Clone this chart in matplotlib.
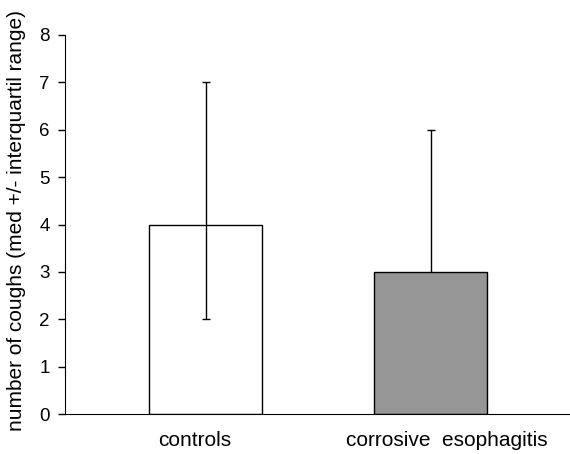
import matplotlib
matplotlib.use("Agg")
import matplotlib.pyplot as plt
import numpy as np

plt.rcParams['font.family'] = ['Liberation Sans', 'DejaVu Sans']

# data
groups = ["controls", "corrosive  esophagitis"]
medians = [4, 3]
lower_q = [2, 2]
upper_q = [7, 6]
bar_faces = ["none", "#969696"]

fig = plt.figure(figsize=(5.7, 4.54), dpi=100)
ax = fig.add_axes([0.114, 0.088, 0.886, 0.835])

x = np.arange(len(groups))
yerr = [np.array(medians) - np.array(lower_q), np.array(upper_q) - np.array(medians)]
# error bars sit behind the bars (hidden inside the filled one)
ax.errorbar(x, medians, yerr=yerr, fmt='none', ecolor='black', elinewidth=1,
            capsize=3.2, capthick=1, zorder=1)
ax.bar(x, medians, width=0.5, color=bar_faces, edgecolor='black', linewidth=1, zorder=2)

ax.set_xlim(-0.625, 1.62)
ax.set_ylim(0, 8)
ax.set_yticks(range(0, 9))
# labels in the original sit a bit off the bar centres
ax.set_xticks(x + np.array([-0.047, 0.073]))
ax.set_xticklabels(groups, fontsize=15)
ax.tick_params(axis='x', length=0, pad=12)
ax.tick_params(axis='y', direction='out', length=5, width=1, pad=6, labelsize=13.5)
ax.spines['top'].set_visible(False)
ax.spines['right'].set_visible(False)
ax.set_ylabel("number of coughs (med +/- interquartil range)", fontsize=15)
ax.yaxis.set_label_coords(-0.078, 0.51)

plt.savefig("out.png", dpi=100)
plt.close()
